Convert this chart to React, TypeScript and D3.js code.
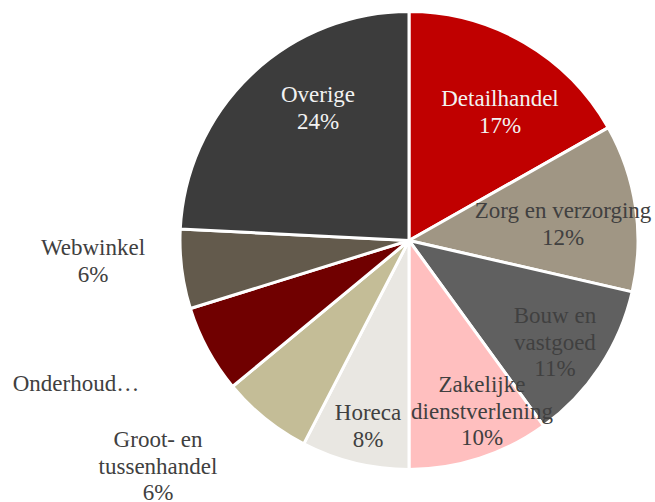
import React from "react";
import * as d3 from "d3";

const categories = [
  "Detailhandel",
  "Zorg en verzorging",
  "Bouw en vastgoed",
  "Zakelijke dienstverlening",
  "Horeca",
  "Groot- en tussenhandel",
  "Onderhoud…",
  "Webwinkel",
  "Overige",
];
const values = [16.8, 11.8, 11.4, 10.0, 7.6, 6.4, 6.2, 5.6, 24.2];
const colors = [
  "#C00000",
  "#A09684",
  "#606060",
  "#FFBFBF",
  "#E9E7E2",
  "#C4BD97",
  "#700000",
  "#635A4C",
  "#3C3C3C",
];
const labelLines: string[][] = [
  ["Detailhandel"],
  ["Zorg en verzorging"],
  ["Bouw en", "vastgoed"],
  ["Zakelijke", "dienstverlening"],
  ["Horeca"],
  ["Groot- en", "tussenhandel"],
  ["Onderhoud…"],
  ["Webwinkel"],
  ["Overige"],
];
const showPct = [true, true, true, true, true, true, false, true, true];
const textColors = ["#F2F2F2", "#404040", "#404040", "#404040", "#404040", "#404040", "#404040", "#404040", "#F2F2F2"];
// layout: label center x and first baseline y
const labelAnchor: [number, number][] = [
  [500, 106],
  [563, 218],
  [555, 323],
  [482, 392],
  [368, 420],
  [158, 447],
  [76, 391],
  [93, 255],
  [318, 102],
];

const W = 655, H = 502;
const cx = 409, cy = 240.5, R = 229;
const lineH = 26.7;
const FONT = "'Liberation Serif', 'Times New Roman', 'DejaVu Serif', serif";

export default function App() {
  const pie = d3.pie<number>().sort(null).value((d) => d).startAngle(0).endAngle(2 * Math.PI);
  const arcs = pie(values);
  const arc = d3.arc<d3.PieArcDatum<number>>().innerRadius(0).outerRadius(R);
  return (
    <div style={{ position: "fixed", left: 0, top: 0 }}>
      <svg width={W} height={H} style={{ display: "block", background: "#fff" }}>
        <g transform={`translate(${cx},${cy})`}>
          {arcs.map((a, i) => (
            <path key={i} d={arc(a) || ""} fill={colors[i]} stroke="#fff" strokeWidth={3} strokeLinejoin="round" />
          ))}
        </g>
        {arcs.map((a, i) => {
          const lines = [...labelLines[i]];
          if (showPct[i]) lines.push(`${Math.round(values[i])}%`);
          const [x, y] = labelAnchor[i];
          return (
            <text
              key={"t" + i}
              x={x}
              y={y}
              textAnchor="middle"
              fill={textColors[i]}
              fontFamily={FONT}
              fontSize={23}
            >
              {lines.map((l, j) => (
                <tspan key={j} x={x} y={y + j * lineH}>
                  {l}
                </tspan>
              ))}
            </text>
          );
        })}
      </svg>
    </div>
  );
}
